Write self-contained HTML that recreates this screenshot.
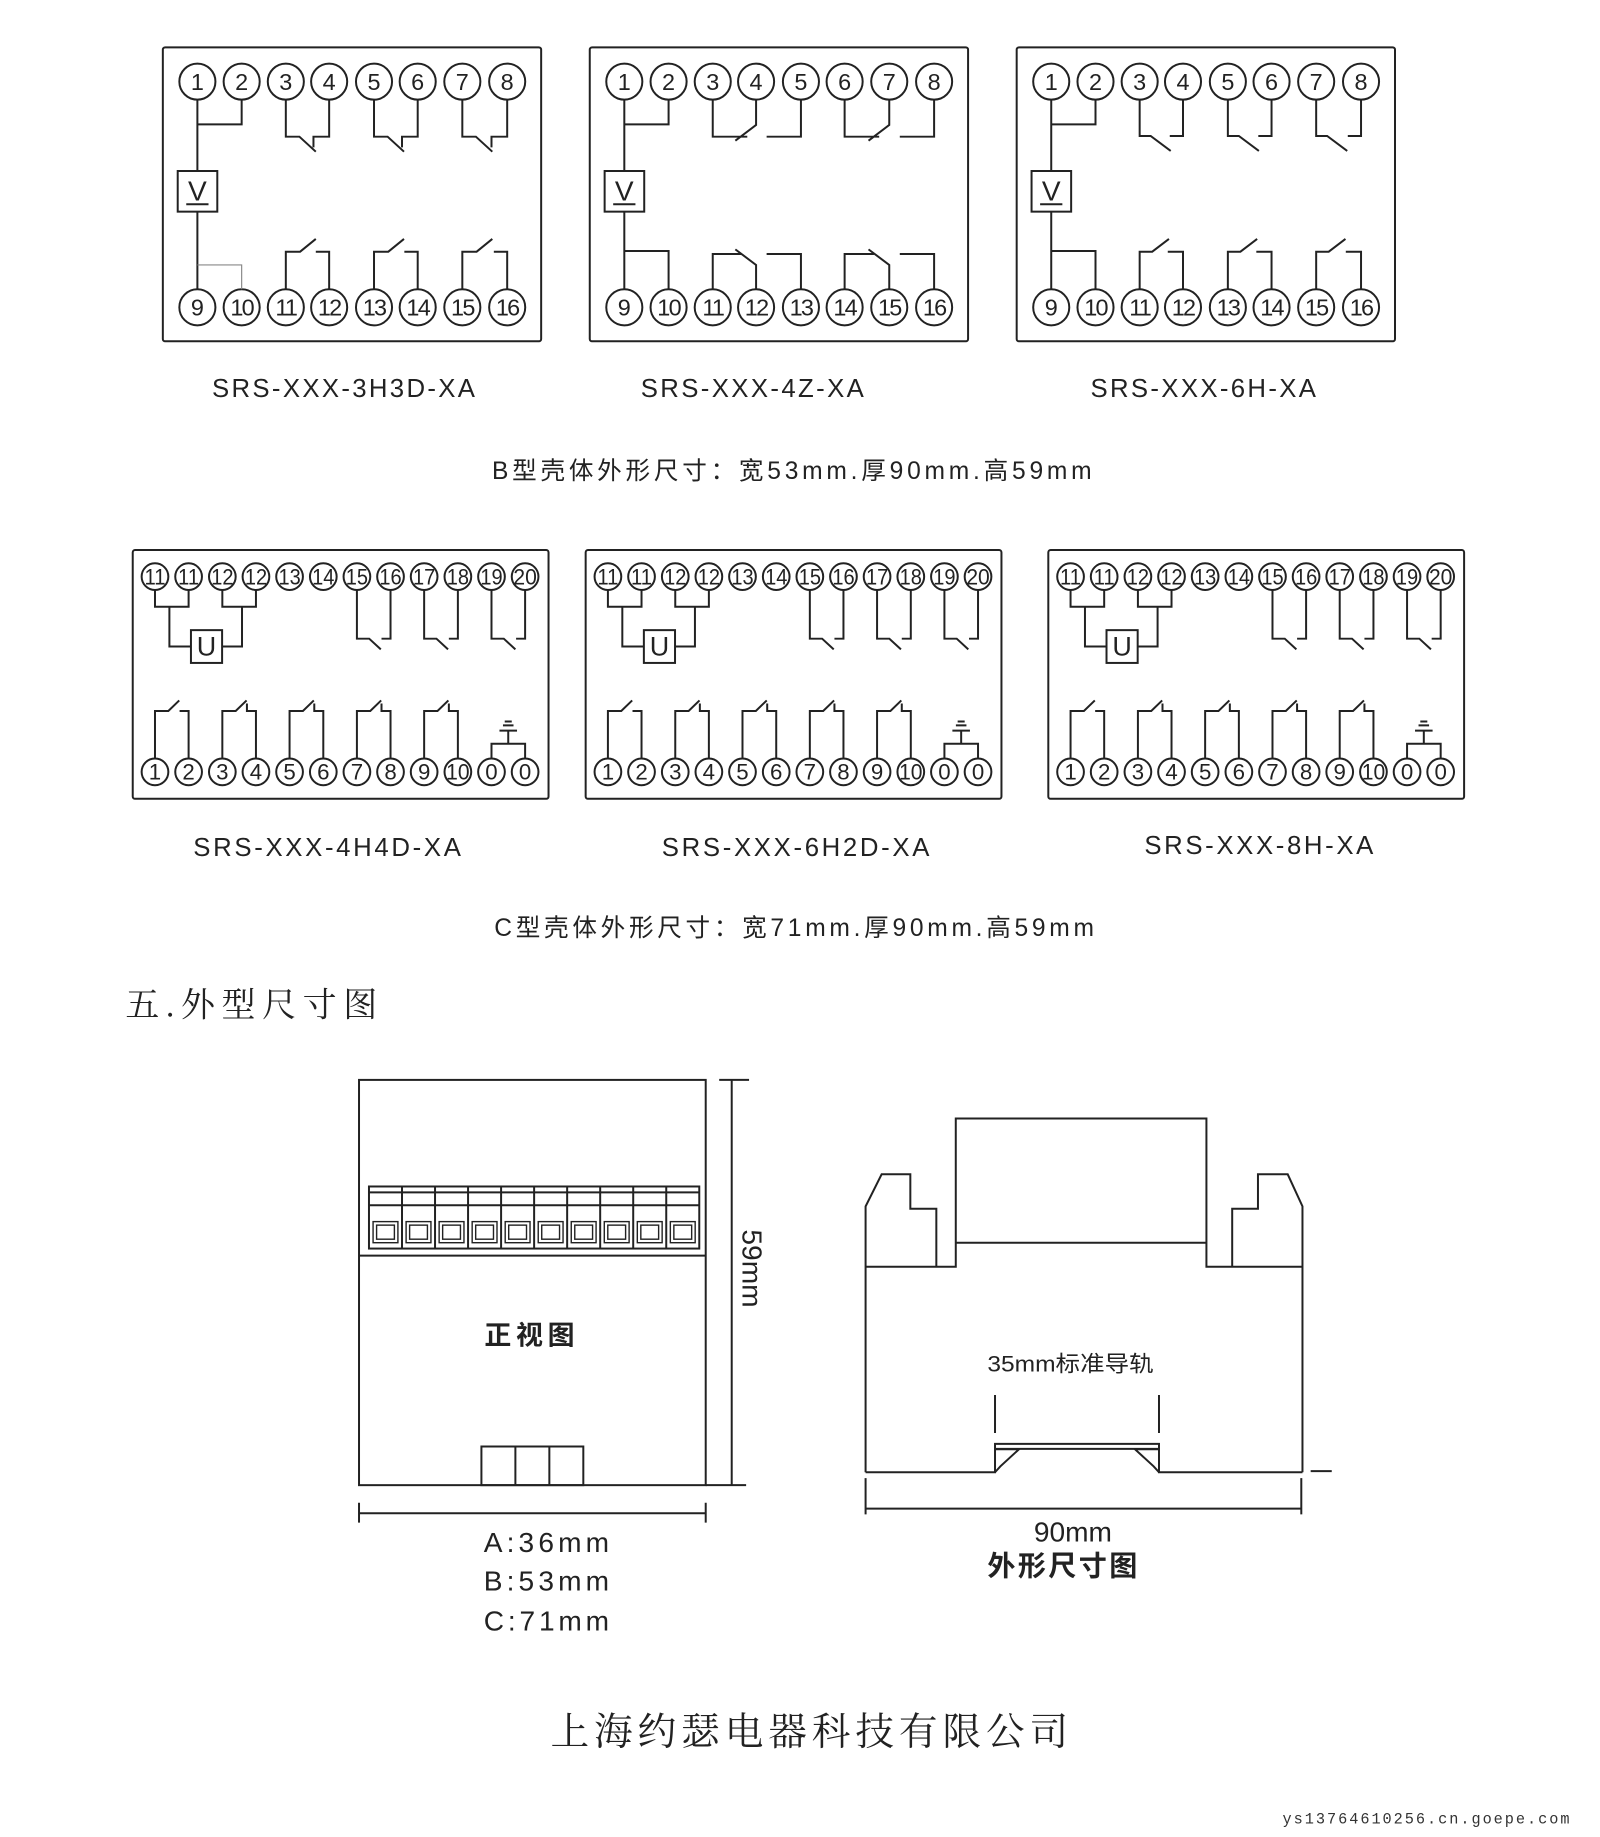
<!DOCTYPE html>
<html><head><meta charset="utf-8"><style>
html,body{margin:0;padding:0;background:#fff;}
svg{display:block;}
text{font-family:"Liberation Sans","Noto Sans CJK SC",sans-serif;fill:#222;}
.s{fill:none;stroke:#222;stroke-width:1.7;}
.t{fill:none;stroke:#222;stroke-width:1.2;}
.cb text{font-size:20px;text-anchor:middle;}
.lab{font-size:22px;letter-spacing:1.5px;}
.serif{font-family:"Liberation Serif","Noto Serif CJK SC",serif;}
</style></head><body>
<svg width="1600" height="1837" viewBox="0 0 1366 1568.4" xmlns="http://www.w3.org/2000/svg">
<defs>
<g id="bcirc" class="s">
<circle cx="29.5" cy="29.3" r="15.4"/><circle cx="67.3" cy="29.3" r="15.4"/><circle cx="105" cy="29.3" r="15.4"/><circle cx="142" cy="29.3" r="15.4"/><circle cx="180.3" cy="29.3" r="15.4"/><circle cx="217.6" cy="29.3" r="15.4"/><circle cx="255.7" cy="29.3" r="15.4"/><circle cx="294" cy="29.3" r="15.4"/>
<circle cx="29.5" cy="222" r="15.4"/><circle cx="67.3" cy="222" r="15.4"/><circle cx="105" cy="222" r="15.4"/><circle cx="142" cy="222" r="15.4"/><circle cx="180.3" cy="222" r="15.4"/><circle cx="217.6" cy="222" r="15.4"/><circle cx="255.7" cy="222" r="15.4"/><circle cx="294" cy="222" r="15.4"/>
<rect x="0" y="0" width="323" height="251" rx="2"/>
<path d="M29.5 44.7V105.6M29.5 140.3V206.6M29.5 65.8H67.3V44.7"/>
<rect x="12.7" y="105.6" width="33.8" height="34.7"/>
<path d="M20 134H39"/>
</g>
<g id="ccirc" class="s">
<rect x="0" y="0" width="355" height="212.4" rx="2"/>
<circle cx="19" cy="22.7" r="11.4"/><circle cx="47.7" cy="22.7" r="11.4"/><circle cx="76.5" cy="22.7" r="11.4"/><circle cx="105.2" cy="22.7" r="11.4"/><circle cx="133.9" cy="22.7" r="11.4"/><circle cx="162.7" cy="22.7" r="11.4"/><circle cx="191.4" cy="22.7" r="11.4"/><circle cx="220.1" cy="22.7" r="11.4"/><circle cx="248.8" cy="22.7" r="11.4"/><circle cx="277.6" cy="22.7" r="11.4"/><circle cx="306.3" cy="22.7" r="11.4"/><circle cx="335" cy="22.7" r="11.4"/>
<circle cx="19" cy="189.4" r="11.4"/><circle cx="47.7" cy="189.4" r="11.4"/><circle cx="76.5" cy="189.4" r="11.4"/><circle cx="105.2" cy="189.4" r="11.4"/><circle cx="133.9" cy="189.4" r="11.4"/><circle cx="162.7" cy="189.4" r="11.4"/><circle cx="191.4" cy="189.4" r="11.4"/><circle cx="220.1" cy="189.4" r="11.4"/><circle cx="248.8" cy="189.4" r="11.4"/><circle cx="277.6" cy="189.4" r="11.4"/><circle cx="306.3" cy="189.4" r="11.4"/><circle cx="335" cy="189.4" r="11.4"/>
<path d="M19 34.1V48.4H47.7V34.1M31.3 48.4V82.4H49.7M76.5 34.1V48.4H105.2V34.1M93.3 48.4V82.4H76.3"/>
<rect x="49.7" y="68.4" width="26.6" height="28"/>
<path d="M191.4 34.1V75.7H201.9L211.8 84.8M220.1 34.1V75.7H212.4"/>
<path d="M248.8 34.1V75.7H259.3L269.2 84.8M277.6 34.1V75.7H269.9"/>
<path d="M306.3 34.1V75.7H316.8L326.7 84.8M335 34.1V75.7H327.3"/>
<path d="M19 178V137.4H30.4L39.7 128.4M47.7 178V137.4H40"/>
<path d="M76.5 178V137.4H87.9L97.2 128.4M105.2 178V137.4H97.5V131"/>
<path d="M133.9 178V137.4H145.3L154.6 128.4M162.7 178V137.4H155V131"/>
<path d="M191.4 178V137.4H202.8L212.1 128.4M220.1 178V137.4H212.4V131"/>
<path d="M248.8 178V137.4H260.2L269.5 128.4M277.6 178V137.4H269.9V131"/>
<path d="M306.3 178V165.4H335V178M320.6 165.4V154.2M313.1 154.2H328.1M316.1 149.7H325.1M317.6 146.4H323.6"/>
<g stroke="none" fill="#222" style="font-size:19px;text-anchor:middle">
<text x="19" y="29.5" textLength="18" lengthAdjust="spacingAndGlyphs">11</text><text x="47.7" y="29.5" textLength="18" lengthAdjust="spacingAndGlyphs">11</text><text x="76.5" y="29.5" textLength="19" lengthAdjust="spacingAndGlyphs">12</text><text x="105.2" y="29.5" textLength="19" lengthAdjust="spacingAndGlyphs">12</text><text x="133.9" y="29.5" textLength="19" lengthAdjust="spacingAndGlyphs">13</text><text x="162.7" y="29.5" textLength="19" lengthAdjust="spacingAndGlyphs">14</text><text x="191.4" y="29.5" textLength="19" lengthAdjust="spacingAndGlyphs">15</text><text x="220.1" y="29.5" textLength="19" lengthAdjust="spacingAndGlyphs">16</text><text x="248.8" y="29.5" textLength="19" lengthAdjust="spacingAndGlyphs">17</text><text x="277.6" y="29.5" textLength="19" lengthAdjust="spacingAndGlyphs">18</text><text x="306.3" y="29.5" textLength="19" lengthAdjust="spacingAndGlyphs">19</text><text x="335" y="29.5" textLength="20" lengthAdjust="spacingAndGlyphs">20</text>
<text x="19" y="196">1</text><text x="47.7" y="196">2</text><text x="76.5" y="196">3</text><text x="105.2" y="196">4</text><text x="133.9" y="196">5</text><text x="162.7" y="196">6</text><text x="191.4" y="196">7</text><text x="220.1" y="196">8</text><text x="248.8" y="196">9</text><text x="277.6" y="196" textLength="20" lengthAdjust="spacingAndGlyphs">10</text><text x="306.3" y="196">0</text><text x="335" y="196">0</text>
<text x="63" y="90" style="font-size:23px">U</text>
</g>
</g>
</defs>

<!-- B box 1 -->
<g transform="translate(139,40.4)">
<use href="#bcirc"/>
<g class="s">
<path d="M105 44.7V76.3H116.6L130.6 89.1M142 44.7V76.3H128.6V85.4"/>
<path d="M180.3 44.7V76.3H191.9L205.9 89.1M217.6 44.7V76.3H204.2V85.4"/>
<path d="M255.7 44.7V76.3H267.3L281.3 89.1M294 44.7V76.3H280.6V85.4"/>
<path d="M105 206.6V174.5H117.2L130.6 163.6M142 206.6V174.5H130.6"/>
<path d="M180.3 206.6V174.5H192.5L205.9 163.6M217.6 206.6V174.5H206.2"/>
<path d="M255.7 206.6V174.5H267.9L281.3 163.6M294 206.6V174.5H282.6"/>
</g>
<path d="M29.5 185.8H67.3V206.6" fill="none" stroke="#888" stroke-width="1"/>
<g class="cb">
<text x="29.5" y="36.5">1</text><text x="67.3" y="36.5">2</text><text x="105" y="36.5">3</text><text x="142" y="36.5">4</text><text x="180.3" y="36.5">5</text><text x="217.6" y="36.5">6</text><text x="255.7" y="36.5">7</text><text x="294" y="36.5">8</text>
<text x="29.5" y="229">9</text><text x="67.3" y="229" style="letter-spacing:-1.5px">10</text><text x="105" y="229" style="letter-spacing:-1.5px">11</text><text x="142" y="229" style="letter-spacing:-1.5px">12</text><text x="180.3" y="229" style="letter-spacing:-1.5px">13</text><text x="217.6" y="229" style="letter-spacing:-1.5px">14</text><text x="255.7" y="229" style="letter-spacing:-1.5px">15</text><text x="294" y="229" style="letter-spacing:-1.5px">16</text>
<text x="29.5" y="131" style="font-size:24px">V</text>
</g>
</g>

<!-- B box 2 -->
<g transform="translate(503.5,40.4)">
<use href="#bcirc"/>
<g class="s">
<path d="M29.5 173.9H67.3V206.6"/>
<path d="M105 44.7V76.3H134.5M142 44.7V66.3L124.3 79.7M180.3 44.7V76.3H151"/>
<path d="M217.6 44.7V76.3H247.1M255.7 44.7V66.3L238 79.7M294 44.7V76.3H264.7"/>
<path d="M105 206.6V176.5H130M142 206.6V185.8L124.3 172.5M180.3 206.6V176.5H151"/>
<path d="M217.6 206.6V176.5H242.6M255.7 206.6V185.8L238 172.5M294 206.6V176.5H264.7"/>
</g>
<g class="cb">
<text x="29.5" y="36.5">1</text><text x="67.3" y="36.5">2</text><text x="105" y="36.5">3</text><text x="142" y="36.5">4</text><text x="180.3" y="36.5">5</text><text x="217.6" y="36.5">6</text><text x="255.7" y="36.5">7</text><text x="294" y="36.5">8</text>
<text x="29.5" y="229">9</text><text x="67.3" y="229" style="letter-spacing:-1.5px">10</text><text x="105" y="229" style="letter-spacing:-1.5px">11</text><text x="142" y="229" style="letter-spacing:-1.5px">12</text><text x="180.3" y="229" style="letter-spacing:-1.5px">13</text><text x="217.6" y="229" style="letter-spacing:-1.5px">14</text><text x="255.7" y="229" style="letter-spacing:-1.5px">15</text><text x="294" y="229" style="letter-spacing:-1.5px">16</text>
<text x="29.5" y="131" style="font-size:24px">V</text>
</g>
</g>

<!-- B box 3 -->
<g transform="translate(868,40.4)">
<use href="#bcirc"/>
<g class="s">
<path d="M29.5 173.9H67.3V206.6"/>
<path d="M105 44.7V75.7H114.4L131.5 88.5M142 44.7V75.7H130.7"/>
<path d="M180.3 44.7V75.7H189.7L206.8 88.5M217.6 44.7V75.7H206.3"/>
<path d="M255.7 44.7V75.7H265.1L282.2 88.5M294 44.7V75.7H282.7"/>
<path d="M105 206.6V174.5H115.7L130 163.6M142 206.6V174.5H129"/>
<path d="M180.3 206.6V174.5H191L205.3 163.6M217.6 206.6V174.5H204.6"/>
<path d="M255.7 206.6V174.5H266.4L280.7 163.6M294 206.6V174.5H281"/>
</g>
<g class="cb">
<text x="29.5" y="36.5">1</text><text x="67.3" y="36.5">2</text><text x="105" y="36.5">3</text><text x="142" y="36.5">4</text><text x="180.3" y="36.5">5</text><text x="217.6" y="36.5">6</text><text x="255.7" y="36.5">7</text><text x="294" y="36.5">8</text>
<text x="29.5" y="229">9</text><text x="67.3" y="229" style="letter-spacing:-1.5px">10</text><text x="105" y="229" style="letter-spacing:-1.5px">11</text><text x="142" y="229" style="letter-spacing:-1.5px">12</text><text x="180.3" y="229" style="letter-spacing:-1.5px">13</text><text x="217.6" y="229" style="letter-spacing:-1.5px">14</text><text x="255.7" y="229" style="letter-spacing:-1.5px">15</text><text x="294" y="229" style="letter-spacing:-1.5px">16</text>
<text x="29.5" y="131" style="font-size:24px">V</text>
</g>
</g>

<text class="lab" x="181" y="339" textLength="226">SRS-XXX-3H3D-XA</text>
<text class="lab" x="547" y="339" textLength="192">SRS-XXX-4Z-XA</text>
<text class="lab" x="931" y="339" textLength="194">SRS-XXX-6H-XA</text>
<text x="420" y="409" style="font-size:21px" textLength="512">B型壳体外形尺寸：宽53mm.厚90mm.高59mm</text>

<g transform="translate(113.3,469.6)"><use href="#ccirc"/></g>
<g transform="translate(500,469.6)"><use href="#ccirc"/></g>
<g transform="translate(895,469.6)"><use href="#ccirc"/></g>

<text class="lab" x="165" y="731" textLength="230">SRS-XXX-4H4D-XA</text>
<text class="lab" x="565" y="731" textLength="230">SRS-XXX-6H2D-XA</text>
<text class="lab" x="977" y="729" textLength="197">SRS-XXX-8H-XA</text>
<text x="422" y="799" style="font-size:21px" textLength="512">C型壳体外形尺寸：宽71mm.厚90mm.高59mm</text>

<text class="serif" x="107" y="868" style="font-size:29px" textLength="215">五.外型尺寸图</text>

<!-- front view -->
<g class="s">
<rect x="306.5" y="922" width="296" height="346"/>
<path d="M306.5 1072H602.5"/>
<rect x="315" y="1013" width="282" height="53"/>
<path d="M315 1018H597M315 1029H597"/>
<path d="M343.2 1013V1066M371.4 1013V1066M399.6 1013V1066M427.8 1013V1066M456 1013V1066M484.2 1013V1066M512.4 1013V1066M540.6 1013V1066M568.8 1013V1066"/>
<rect x="411" y="1235" width="87" height="33"/>
<path d="M440 1235V1268M469 1235V1268"/>
<path d="M614 922H639.5M624.7 922V1268M602.5 1268H637"/>
<path d="M306.5 1292H602.5M306.5 1283V1300M602.5 1283V1300"/>
</g>
<g class="t">
<rect x="318.5" y="1043" width="21.2" height="18"/><rect x="321.5" y="1046" width="15.2" height="12"/>
<rect x="346.7" y="1043" width="21.2" height="18"/><rect x="349.7" y="1046" width="15.2" height="12"/>
<rect x="374.9" y="1043" width="21.2" height="18"/><rect x="377.9" y="1046" width="15.2" height="12"/>
<rect x="403.1" y="1043" width="21.2" height="18"/><rect x="406.1" y="1046" width="15.2" height="12"/>
<rect x="431.3" y="1043" width="21.2" height="18"/><rect x="434.3" y="1046" width="15.2" height="12"/>
<rect x="459.5" y="1043" width="21.2" height="18"/><rect x="462.5" y="1046" width="15.2" height="12"/>
<rect x="487.7" y="1043" width="21.2" height="18"/><rect x="490.7" y="1046" width="15.2" height="12"/>
<rect x="515.9" y="1043" width="21.2" height="18"/><rect x="518.9" y="1046" width="15.2" height="12"/>
<rect x="544.1" y="1043" width="21.2" height="18"/><rect x="547.1" y="1046" width="15.2" height="12"/>
<rect x="572.3" y="1043" width="21.2" height="18"/><rect x="575.3" y="1046" width="15.2" height="12"/>
</g>
<text x="454" y="1148" style="font-size:23px;font-weight:bold;letter-spacing:4px" text-anchor="middle">正视图</text>
<text transform="translate(634,1083) rotate(90)" style="font-size:24px" text-anchor="middle">59mm</text>
<text x="413" y="1325" style="font-size:24px" textLength="107">A:36mm</text>
<text x="413" y="1358" style="font-size:24px" textLength="107">B:53mm</text>
<text x="413" y="1392" style="font-size:24px" textLength="107">C:71mm</text>

<!-- side view -->
<g class="s">
<path d="M739 1257V1030L752.7 1002.6H777.2V1032H799.4V1081.5M739 1081.5H816V955H1030V1081.5H1112"/>
<path d="M816 1061H1030"/>
<path d="M1112 1257V1030L1099.4 1002.6H1074V1032H1052V1081.5"/>
<path d="M739 1257H849.5V1232.8H989.5V1257H1112"/>
<path d="M849.5 1237H989.5"/>
<path d="M849.5 1191V1223.5M989.5 1191V1223.5"/>
<path d="M849.5 1237.3H870L854 1252L849.5 1257M989.5 1237.3H969L985 1252L989.5 1257"/>
<path d="M1119 1256H1137"/>
<path d="M739 1288H1111M739 1262V1293M1111 1262V1293"/>
</g>
<text x="843" y="1171" style="font-size:19px" textLength="142" lengthAdjust="spacingAndGlyphs">35mm标准导轨</text>
<text x="916" y="1316" style="font-size:24px" text-anchor="middle">90mm</text>
<text x="908" y="1345" style="font-size:24px;font-weight:bold;letter-spacing:2px" text-anchor="middle">外形尺寸图</text>

<text class="serif" x="470" y="1490" style="font-size:33px" textLength="442">上海约瑟电器科技有限公司</text>
<text x="1095" y="1557" style="font-size:13px;font-family:'Liberation Mono',monospace;fill:#333" textLength="245">ys13764610256.cn.goepe.com</text>
</svg>
</body></html>
